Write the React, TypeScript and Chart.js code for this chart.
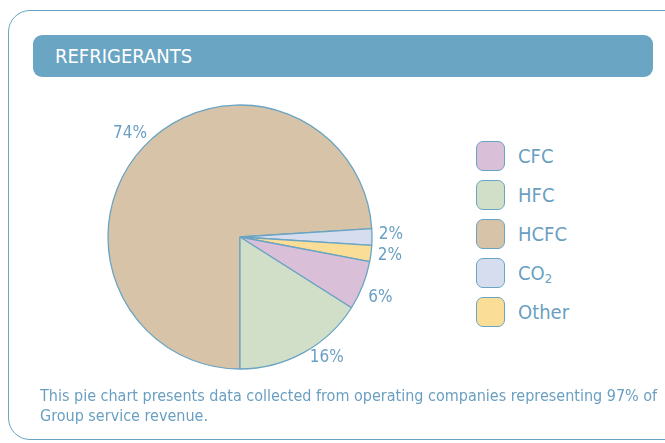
import React, { useEffect, useRef } from "react";
import { Chart, registerables } from "chart.js";

Chart.register(...registerables);

const categories = ["HCFC", "CO2", "Other", "CFC", "HFC"];
const values = [74, 2, 2, 6, 16];
const sliceColors = ["#d6c3a8", "#d5ddef", "#fadd97", "#d9bfd7", "#d1dfc9"];
const legendItems = [
  { label: "CFC", color: "#d9bfd7" },
  { label: "HFC", color: "#d1dfc9" },
  { label: "HCFC", color: "#d6c3a8" },
  { label: "CO2", color: "#d5ddef" },
  { label: "Other", color: "#fadd97" },
];

const FONT = '"Liberation Sans Narrow", "DejaVu Sans Condensed", "Liberation Sans", sans-serif';
const BLUE = "#6aa4c3";
const TEXT = "#6a9fc2";

// small label nudges (style only)
const labelNudge: Record<string, [number, number]> = {
  HFC: [14, -12],
  CFC: [0, 5],
  CO2: [0, -2],
};

const labelPlugin = {
  id: "pctLabels",
  afterDatasetsDraw(chart: any) {
    const ctx = chart.ctx;
    const meta = chart.getDatasetMeta(0);
    ctx.save();
    ctx.fillStyle = TEXT;
    ctx.font = `17px ${FONT}`;
    ctx.textAlign = "center";
    ctx.textBaseline = "middle";
    meta.data.forEach((arc: any, i: number) => {
      const p = arc.getProps(["x", "y", "startAngle", "endAngle", "outerRadius"], true);
      const mid = (p.startAngle + p.endAngle) / 2;
      const r = p.outerRadius + 19;
      const n = labelNudge[categories[i]] || [0, 0];
      const x = p.x + Math.cos(mid) * r + n[0];
      const y = p.y + Math.sin(mid) * r + n[1];
      ctx.fillText(values[i] + "%", x, y);
    });
    ctx.restore();
  },
};

export default function App() {
  const ref = useRef<HTMLCanvasElement>(null);
  useEffect(() => {
    if (!ref.current) return;
    const chart = new Chart(ref.current, {
      type: "pie",
      data: {
        labels: categories,
        datasets: [
          {
            data: values,
            backgroundColor: sliceColors,
            borderColor: BLUE,
            borderWidth: 1.3,
            radius: 132,
          },
        ],
      },
      options: {
        animation: false,
        responsive: false,
        rotation: 180,
        layout: { padding: 0 },
        plugins: { legend: { display: false }, tooltip: { enabled: false } },
      },
      plugins: [labelPlugin],
    });
    return () => chart.destroy();
  }, []);

  return (
    <div style={{ position: "absolute", left: 0, top: 0, width: 665, height: 443, background: "#fff", overflow: "hidden", fontFamily: FONT }}>
      <div style={{ position: "absolute", left: 8, top: 10, width: 680, height: 430, border: `1.3px solid ${BLUE}`, borderRadius: 22, boxSizing: "border-box" }} />
      <div style={{ position: "absolute", left: 33, top: 35, width: 620, height: 42, background: "#6aa5c4", borderRadius: 9 }}>
        <div style={{ position: "absolute", left: 22, top: 10, color: "#fff", fontSize: 20, lineHeight: "22px" }}>REFRIGERANTS</div>
      </div>
      <canvas ref={ref} width={380} height={314} style={{ position: "absolute", left: 50, top: 80, width: 380, height: 314 }} />
      <div style={{ position: "absolute", left: 476, top: 141 }}>
        {legendItems.map((it, i) => (
          <div key={i} style={{ position: "absolute", left: 0, top: i * 39, width: 160, height: 32 }}>
            <div style={{ position: "absolute", left: 0, top: 0, width: 29, height: 30, background: it.color, border: `1.5px solid ${BLUE}`, borderRadius: 7, boxSizing: "border-box" }} />
            <div style={{ position: "absolute", left: 42, top: 4, color: TEXT, fontSize: 20, lineHeight: "22px", whiteSpace: "nowrap" }}>
              {it.label === "CO2" ? (<span>CO<sub style={{ fontSize: 13, verticalAlign: "-3px", lineHeight: 0 }}>2</sub></span>) : it.label}
            </div>
          </div>
        ))}
      </div>
      <div style={{ position: "absolute", left: 40, top: 386, width: 620, color: TEXT, fontSize: 16, lineHeight: "20px" }}>
        This pie chart presents data collected from operating companies representing 97% of Group service revenue.
      </div>
    </div>
  );
}
